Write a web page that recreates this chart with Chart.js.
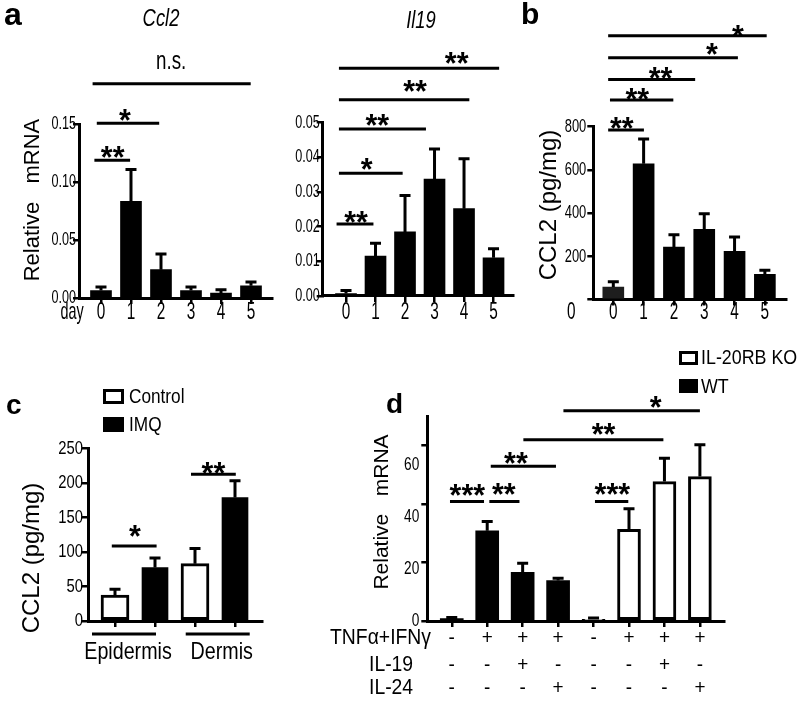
<!DOCTYPE html>
<html><head><meta charset="utf-8">
<script src="https://cdn.jsdelivr.net/npm/chart.js@4.4.1/dist/chart.umd.min.js"></script>
<style>
html,body{margin:0;padding:0;background:#fff;}
#wrap{position:relative;width:800px;height:701px;overflow:hidden;background:#fff;}
canvas{position:absolute;left:0;top:0;}
</style></head><body><div id="wrap">
<canvas id="cA1" width="800" height="701"></canvas>
<canvas id="cA2" width="800" height="701"></canvas>
<canvas id="cB" width="800" height="701"></canvas>
<canvas id="cC" width="800" height="701"></canvas>
<canvas id="cD" width="800" height="701"></canvas>
</div>
<script>
// ---------- DATA ----------
const days = ['0', '1', '2', '3', '4', '5'];
// a: Ccl2 relative mRNA
const ccl2Mrna    = [0.0065, 0.0835, 0.0245, 0.0065, 0.0043, 0.0105];
const ccl2MrnaSem = [0.0030, 0.0275, 0.0135, 0.0030, 0.0029, 0.0034];
// a: Il19 relative mRNA
const il19Mrna    = [0.0007, 0.0115, 0.0185, 0.0337, 0.0252, 0.0110];
const il19MrnaSem = [0.0009, 0.0037, 0.0105, 0.0087, 0.0144, 0.0026];
// b: CCL2 protein (pg/mg)
const ccl2Protein    = [58, 628, 243, 325, 223, 117];
const ccl2ProteinSem = [24, 115, 57, 72, 66, 18];
// c: CCL2 protein by skin layer
const sites = ['Epidermis', 'Dermis'];
const controlVals = [37.7, 83];
const controlSem  = [8.3, 22];
const imqVals     = [77.3, 178.7];
const imqSem      = [14, 24.3];
// d: relative mRNA in keratinocytes
const genotype = ['WT', 'WT', 'WT', 'WT', 'IL-20RB KO', 'IL-20RB KO', 'IL-20RB KO', 'IL-20RB KO'];
const tnfIfn   = ['-', '+', '+', '+', '-', '+', '+', '+'];
const il19Add  = ['-', '-', '+', '-', '-', '-', '+', '-'];
const il24Add  = ['-', '-', '-', '+', '-', '-', '-', '+'];
const dMrna    = [0.8, 30.8, 16.6, 13.8, 0.6, 31.3, 47.6, 49.3];
const dMrnaSem = [0.4, 3.2, 3.1, 0.8, 0.4, 7.0, 8.0, 10.9];
// tick labels
const ccl2MrnaTicks = [0, 0.05, 0.10, 0.15];
const il19MrnaTicks = [0, 0.01, 0.02, 0.03, 0.04, 0.05];
const proteinTicks  = [200, 400, 600, 800];
const cTicks        = [0, 50, 100, 150, 200, 250];
const dTicks        = [0, 20, 40, 60];

// ---------- HELPERS ----------
const FAM = "'Liberation Sans', Arial, sans-serif";
function T(ctx, s, x, y, o = {}) {
  const size = o.size || 16;
  ctx.save();
  ctx.font = `${o.style || 'normal'} ${o.weight || 'normal'} ${size}px ${FAM}`;
  ctx.fillStyle = '#000';
  ctx.textAlign = o.align || 'center';
  ctx.textBaseline = o.baseline || 'middle';
  ctx.translate(x, y);
  if (o.rot) ctx.rotate(o.rot);
  ctx.scale(o.sx || 1, 1);
  ctx.fillText(s, 0, 0);
  ctx.restore();
}
function stars(ctx, s, x, yc) {
  const size = 32;
  T(ctx, s, x, yc + 0.58 * size, { size, weight: 'bold', baseline: 'alphabetic', sx: 0.95 });
}
function hline(ctx, x1, x2, y, w = 3) {
  ctx.save(); ctx.strokeStyle = '#000'; ctx.lineWidth = w; ctx.lineCap = 'butt';
  ctx.beginPath(); ctx.moveTo(x1, y); ctx.lineTo(x2, y); ctx.stroke(); ctx.restore();
}
function brackets(chart, list) {
  const ctx = chart.ctx, xs = chart.scales.x, ys = chart.scales.y;
  list.forEach(b => {
    hline(ctx, xs.getPixelForValue(b.from), xs.getPixelForValue(b.to), ys.getPixelForValue(b.level));
    if (b.text === 'n.s.') T(ctx, b.text, xs.getPixelForValue(b.at), ys.getPixelForValue(b.textLevel), { size: 25, sx: 0.75 });
    else stars(ctx, b.text, xs.getPixelForValue(b.at), ys.getPixelForValue(b.textLevel));
  });
}
function drawErr(chart, sems) {
  const ctx = chart.ctx, ys = chart.scales.y;
  ctx.save(); ctx.strokeStyle = '#000'; ctx.lineWidth = 3; ctx.lineCap = 'butt';
  chart.data.datasets.forEach((ds, d) => {
    const meta = chart.getDatasetMeta(d);
    meta.data.forEach((el, i) => {
      const v = ds.data[i].y;
      const ye = ys.getPixelForValue(v + sems[d][i]);
      ctx.beginPath(); ctx.moveTo(el.x, el.y); ctx.lineTo(el.x, ye);
      ctx.moveTo(el.x - 5.5, ye); ctx.lineTo(el.x + 5.5, ye); ctx.stroke();
    });
  });
  ctx.restore();
}
function yLabels(chart, ticks, fmt, o = {}) {
  const ys = chart.scales.y, ctx = chart.ctx, a = chart.chartArea;
  ticks.forEach(v => {
    const py = ys.getPixelForValue(v * (o.factor || 1));
    T(ctx, fmt(v), a.left - (o.gap || 3), py, { size: o.size || 18, sx: o.sx || 0.7, align: 'right' });
  });
}
function xLabels(chart, labels, o = {}) {
  const xs = chart.scales.x, ctx = chart.ctx, a = chart.chartArea;
  labels.forEach((l, i) => T(ctx, l, xs.getPixelForValue(i), a.bottom + (o.dy || 14), { size: o.size || 24, sx: o.sx || 0.64 }));
}
const axisGrid = { drawOnChartArea: false, drawTicks: true, tickLength: 6, color: '#000', lineWidth: 2.5, offset: false };
const axisBorder = { display: true, color: '#000', width: 3 };

function makeChart(id, o) {
  return new Chart(document.getElementById(id).getContext('2d'), {
    type: 'bar',
    data: { datasets: o.datasets },
    options: {
      responsive: false, animation: false, events: [],
      layout: { padding: { left: o.area.l, top: o.area.t, right: 800 - o.area.r, bottom: 701 - o.area.b } },
      plugins: { legend: { display: false }, tooltip: { enabled: false } },
      scales: {
        x: { type: 'linear', offset: false, bounds: 'data', min: o.x.min, max: o.x.max,
             afterBuildTicks: s => { s.ticks = o.x.ticks.map(v => ({ value: v })); },
             afterFit: s => { s.height = 0; },
             ticks: { display: false }, grid: axisGrid, border: axisBorder },
        y: { type: 'linear', offset: false, min: o.y.min, max: o.y.max,
             afterBuildTicks: s => { s.ticks = o.y.ticks.map(v => ({ value: v })); },
             afterFit: s => { s.width = 0; },
             ticks: { display: false }, grid: axisGrid, border: axisBorder }
      }
    },
    plugins: [{ id: 'deco',
      afterDatasetsDraw(chart) { drawErr(chart, o.sems); },
      afterDraw(chart) { o.draw(chart); } }]
  });
}
const idx = arr => arr.map((v, i) => ({ x: i, y: v }));

// ---------- a: Ccl2 ----------
makeChart('cA1', {
  area: { l: 79, t: 124.3, r: 272, b: 298 },
  x: { min: -0.733, max: 5.7, ticks: days.map((d, i) => i) },
  y: { min: 0, max: 0.15, ticks: ccl2MrnaTicks },
  datasets: [{ data: idx(ccl2Mrna), backgroundColor: '#000', barThickness: 21, borderWidth: 0 }],
  sems: [ccl2MrnaSem],
  draw(chart) {
    const ctx = chart.ctx, a = chart.chartArea;
    T(ctx, 'a', 4, 25, { size: 32, weight: 'bold', align: 'left', baseline: 'alphabetic' });
    T(ctx, 'Ccl2', 161, 20, { size: 23, style: 'italic', sx: 0.8 });
    yLabels(chart, ccl2MrnaTicks, v => v.toFixed(2));
    xLabels(chart, days);
    T(ctx, 'day', a.left - 7, a.bottom + 14, { size: 24, sx: 0.6 });
    T(ctx, 'Relative   mRNA', 33, 200, { size: 22, rot: -Math.PI / 2 });
    brackets(chart, [
      { from: -0.22, to: 0.97, level: 0.119, text: '**', at: 0.39, textLevel: 0.128 },
      { from: -0.14, to: 1.94, level: 0.151, text: '*', at: 0.80, textLevel: 0.160 },
      { from: -0.28, to: 4.99, level: 0.185, text: 'n.s.', at: 2.34, textLevel: 0.204 }
    ]);
  }
});

// ---------- a: Il19 ----------
makeChart('cA2', {
  area: { l: 322.7, t: 122.7, r: 513, b: 296 },
  x: { min: -0.79, max: 5.66, ticks: days.map((d, i) => i) },
  y: { min: 0, max: 0.05, ticks: il19MrnaTicks },
  datasets: [{ data: idx(il19Mrna), backgroundColor: '#000', barThickness: 21, borderWidth: 0 }],
  sems: [il19MrnaSem],
  draw(chart) {
    const ctx = chart.ctx;
    T(ctx, 'Il19', 421, 22, { size: 23, style: 'italic', sx: 0.8 });
    yLabels(chart, il19MrnaTicks, v => v.toFixed(2));
    xLabels(chart, days, { dy: 16 });
    brackets(chart, [
      { from: -0.32, to: 0.93, level: 0.0208, text: '**', at: 0.34, textLevel: 0.0234 },
      { from: -0.24, to: 1.92, level: 0.0354, text: '*', at: 0.70, textLevel: 0.0387 },
      { from: -0.24, to: 2.71, level: 0.0482, text: '**', at: 1.06, textLevel: 0.0514 },
      { from: -0.24, to: 4.18, level: 0.0566, text: '**', at: 2.34, textLevel: 0.0614 },
      { from: -0.24, to: 5.19, level: 0.0657, text: '**', at: 3.75, textLevel: 0.0695 }
    ]);
  }
});

// ---------- b ----------
makeChart('cB', {
  area: { l: 593.3, t: 126.7, r: 786.7, b: 299.5 },
  x: { min: -0.66, max: 5.72, ticks: days.map((d, i) => i) },
  y: { min: 0, max: 800, ticks: [0].concat(proteinTicks) },
  datasets: [{ data: idx(ccl2Protein), backgroundColor: ccl2Protein.map((v, i) => i === 0 ? '#1e1e1e' : '#000'), barThickness: 21, borderWidth: 0 }],
  sems: [ccl2ProteinSem],
  draw(chart) {
    const ctx = chart.ctx, a = chart.chartArea;
    T(ctx, 'b', 521, 24, { size: 30, weight: 'bold', align: 'left', baseline: 'alphabetic' });
    yLabels(chart, proteinTicks, v => String(v), { size: 19, gap: 7, sx: 0.68 });
    xLabels(chart, days, { dy: 13 });
    T(ctx, '0', a.left - 22, a.bottom + 13, { size: 24, sx: 0.64 });
    T(ctx, 'CCL2 (pg/mg)', 549, 205, { size: 24, rot: -Math.PI / 2 });
    brackets(chart, [
      { from: -0.17, to: 1.01, level: 785, text: '**', at: 0.28, textLevel: 831 },
      { from: -0.11, to: 1.98, level: 924, text: '**', at: 0.79, textLevel: 965 },
      { from: -0.17, to: 2.70, level: 1019, text: '**', at: 1.56, textLevel: 1061 },
      { from: -0.17, to: 4.11, level: 1119, text: '*', at: 3.25, textLevel: 1173 },
      { from: -0.17, to: 5.06, level: 1221, text: '*', at: 4.11, textLevel: 1257 }
    ]);
  }
});

// ---------- c ----------
const cOff = 0.25;
makeChart('cC', {
  area: { l: 88, t: 448.3, r: 262, b: 621 },
  x: { min: -0.5875, max: 1.5875, ticks: sites.flatMap((s, g) => [g - cOff, g + cOff]) },
  y: { min: 0, max: 250, ticks: cTicks },
  datasets: [
    { data: controlVals.map((v, g) => ({ x: g - cOff, y: v })), backgroundColor: '#fff', borderColor: '#000', borderWidth: 3, borderSkipped: false, barThickness: 28, grouped: false },
    { data: imqVals.map((v, g) => ({ x: g + cOff, y: v })), backgroundColor: '#000', borderWidth: 0, barThickness: 26, grouped: false }
  ],
  sems: [controlSem, imqSem],
  draw(chart) {
    const ctx = chart.ctx, a = chart.chartArea, xs = chart.scales.x;
    T(ctx, 'c', 6, 414, { size: 28, weight: 'bold', align: 'left', baseline: 'alphabetic' });
    yLabels(chart, cTicks, v => String(v), { size: 19, sx: 0.78, gap: 5 });
    T(ctx, 'CCL2 (pg/mg)', 32, 558, { size: 24, rot: -Math.PI / 2 });
    // legend
    ctx.save(); ctx.lineWidth = 3; ctx.strokeStyle = '#000';
    ctx.strokeRect(104.5, 390.5, 18, 12); ctx.fillStyle = '#000'; ctx.fillRect(103, 417, 21, 15); ctx.restore();
    T(ctx, 'Control', 129, 397, { size: 21, sx: 0.82, align: 'left' });
    T(ctx, 'IMQ', 129, 425, { size: 21, sx: 0.82, align: 'left' });
    // group labels
    const labelAt = [-0.0875, 1.084];
    sites.forEach((s, g) => {
      const cx = xs.getPixelForValue(labelAt[g]);
      hline(ctx, cx - 36, cx + 28, a.bottom + 13);
      T(ctx, s, cx, a.bottom + 31, { size: 24, sx: 0.82 });
    });
    brackets(chart, [
      { from: -0.29, to: 0.27, level: 108.6, text: '*', at: 0.0, textLevel: 133.6 },
      { from: 0.70, to: 1.26, level: 212.4, text: '**', at: 0.98, textLevel: 225.8 }
    ]);
  }
});

// ---------- d ----------
makeChart('cD', {
  area: { l: 427.3, t: 416, r: 724, b: 621 },
  x: { min: -0.69, max: 7.68, ticks: dMrna.map((v, i) => i) },
  y: { min: 0, max: 70, ticks: dTicks },
  datasets: [{ data: idx(dMrna),
    backgroundColor: genotype.map(g => g === 'WT' ? '#000' : '#fff'),
    borderColor: '#000', borderWidth: genotype.map(g => g === 'WT' ? 0 : 3), borderSkipped: false, barThickness: 23 }],
  sems: [dMrnaSem],
  draw(chart) {
    const ctx = chart.ctx, a = chart.chartArea, xs = chart.scales.x;
    T(ctx, 'd', 386, 413, { size: 28, weight: 'bold', align: 'left', baseline: 'alphabetic' });
    yLabels(chart, dTicks, v => String(v), { size: 19, sx: 0.72, gap: 8, factor: 0.89 });
    T(ctx, 'Relative   mRNA', 382, 512, { size: 21, rot: -Math.PI / 2 });
    // legend
    ctx.save(); ctx.lineWidth = 3; ctx.strokeStyle = '#000';
    ctx.strokeRect(680.5, 352.5, 16, 11); ctx.fillStyle = '#000'; ctx.fillRect(679, 379, 19, 14); ctx.restore();
    T(ctx, 'IL-20RB KO', 701, 358, { size: 21, sx: 0.85, align: 'left' });
    T(ctx, 'WT', 701, 387, { size: 21, sx: 0.85, align: 'left' });
    // treatment rows
    const rows = [['TNF\u03b1+IFN\u03b3', tnfIfn, 17, 330], ['IL-19', il19Add, 44, 369], ['IL-24', il24Add, 67, 369]];
    rows.forEach(([name, vals, dy, lx]) => {
      T(ctx, name, lx, a.bottom + dy, { size: 22, sx: 0.88, align: 'left' });
      vals.forEach((s, i) => T(ctx, s, xs.getPixelForValue(i), a.bottom + dy, { size: 21, sx: 0.9 }));
    });
    brackets(chart, [
      { from: -0.05, to: 0.91, level: 40.8, text: '***', at: 0.44, textLevel: 45.7 },
      { from: 1.06, to: 1.91, level: 40.8, text: '**', at: 1.47, textLevel: 45.8 },
      { from: 1.10, to: 2.94, level: 52.8, text: '**', at: 1.81, textLevel: 56.6 },
      { from: 2.02, to: 5.97, level: 61.9, text: '**', at: 4.28, textLevel: 66.4 },
      { from: 3.15, to: 7.00, level: 71.8, text: '*', at: 5.75, textLevel: 75.6 },
      { from: 4.04, to: 4.98, level: 40.8, text: '***', at: 4.53, textLevel: 45.8 }
    ]);
  }
});
</script></body></html>
